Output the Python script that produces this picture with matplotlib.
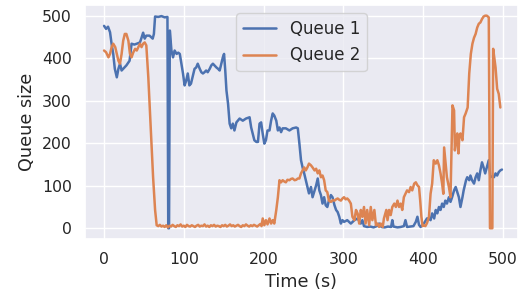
import matplotlib
matplotlib.use("Agg")
import matplotlib.pyplot as plt
import seaborn as sns

# Queue 1 (time in s, queue size)
t1 = [0, 2.5, 5, 7.5, 9.5, 11.5, 13.5, 16, 18, 20, 22, 24, 28, 32, 34.5, 38, 41, 45, 47, 49,
      51, 53, 57, 61, 62.5, 64, 68, 72, 76, 79.5, 80.5, 81.5, 82.5, 84.5, 86.5, 88.5, 91, 93, 95, 97,
      99, 101, 103, 105, 107, 109, 111.5, 113.5, 115.5, 117.5, 120, 122, 124, 126, 128, 130, 132.5, 134.5, 136.5, 138.5,
      141, 143, 145, 147, 149, 150.5, 152, 153.5, 155.5, 157.5, 159.5, 161.5, 163.5, 166, 170, 174, 178, 182.5, 184.5, 186.5,
      188.5, 191, 193, 195, 197, 199, 201, 203, 205, 207.5, 209.5, 211.5, 213.5, 216, 218, 220, 222, 224, 228, 232.5,
      236.5, 241, 243, 245, 247, 249, 251, 253, 255, 257, 259.5, 261.5, 264, 266, 268, 270, 272, 274, 276, 278,
      280, 282, 284.5, 286.5, 289, 291, 293, 295, 297, 299, 301, 305, 309.5, 314, 318, 322, 324, 326, 330, 334,
      338, 342, 345, 348, 352, 356, 360, 361.5, 363, 368, 372, 376, 378, 380, 384, 388, 391, 393, 395, 397,
      401, 405, 407.5, 409.5, 411.5, 414, 416, 418, 420, 422, 424, 426, 428, 430, 432.5, 434.5, 436.5, 439, 441, 443,
      445, 447, 449.5, 451, 454, 455.5, 458, 459.5, 461.5, 464, 466, 468, 470, 472, 474, 476, 478, 480, 482.5, 484.5,
      487, 489, 491, 493, 495, 497, 499]
q1 = [476, 469, 474, 461, 433, 410, 375, 355, 375, 387, 371, 375, 383, 394, 434, 432, 434, 437, 448, 460,
      446, 453, 453, 446, 457, 498, 497, 499, 496, 497, 0, 0, 465, 418, 402, 418, 410, 413, 410, 387,
      364, 336, 347, 364, 336, 340, 359, 375, 378, 387, 375, 367, 364, 367, 371, 367, 375, 383, 387, 383,
      378, 375, 371, 387, 402, 410, 371, 324, 293, 246, 235, 246, 230, 249, 258, 253, 258, 261, 237, 222,
      207, 203, 203, 246, 249, 222, 199, 207, 230, 230, 253, 270, 265, 253, 230, 237, 226, 235, 235, 230,
      235, 237, 235, 199, 160, 143, 129, 113, 97, 82, 97, 73, 89, 101, 117, 89, 78, 58, 73, 54,
      50, 65, 78, 73, 54, 43, 38, 27, 11, 19, 15, 19, 11, 19, 23, 11, 19, 5, 3, 4,
      2, 5, 11, 3, 2, 4, 3, 19, 4, 2, 3, 5, 19, 3, 4, 5, 15, 27, 8, 3,
      11, 23, 23, 19, 35, 23, 43, 35, 50, 43, 58, 50, 65, 58, 73, 62, 73, 89, 97, 85,
      73, 50, 73, 89, 113, 120, 113, 124, 113, 105, 120, 129, 113, 136, 155, 143, 129, 143, 160, 120,
      122, 120, 129, 124, 132, 136, 138]

# Queue 2 (time in s, queue size)
t2 = [0, 2.5, 5.5, 7.5, 9.5, 11.5, 14, 16, 18, 20, 22, 24, 26, 28, 30.5, 32.5, 34.5, 36.5, 39, 41,
      43, 45, 47, 49, 51, 53, 55.5, 57.5, 59.5, 61.5, 64, 66, 68, 70, 72, 74, 76, 78, 80, 82,
      84, 86, 88, 90, 92, 94, 96, 98, 100, 102, 104, 106, 108, 110, 112, 114, 116, 118, 120, 122,
      124, 126, 128, 130, 132, 134, 136, 138, 140, 142, 144, 146, 148, 150, 152, 154, 156, 158, 160, 162,
      164, 166, 168, 170, 172, 174, 176, 178, 180, 182, 184, 186, 188, 190, 192, 194, 196, 197.5, 199, 201,
      203, 205, 207.5, 209.5, 211.5, 213.5, 216, 218, 220, 222, 224, 226, 228, 230, 232.5, 234.5, 236.5, 239, 241, 243,
      245, 247, 249, 251, 253, 255, 257, 259.5, 261.5, 264, 266, 268, 270, 272, 274, 276, 278, 280, 282, 284.5,
      287, 289, 291, 293, 295, 297, 299, 301, 303, 305, 307, 309.5, 311.5, 314, 316, 318, 320, 322, 324, 326,
      328, 330, 332.5, 334.5, 336.5, 339, 341, 343, 345, 347, 349.5, 351, 354, 355.5, 357.5, 359.5, 361.5, 364, 366, 368,
      370, 372, 374, 376, 378, 380, 382.5, 384.5, 386.5, 389, 391, 393, 395, 396.5, 398, 399.5, 401, 403, 405, 407.5,
      409.5, 411.5, 413.5, 416, 418, 420, 422, 424, 425.5, 426.5, 428, 430, 432.5, 434.5, 436, 437, 439, 440, 441, 443,
      444.5, 445.5, 447, 449.5, 451.5, 453.5, 456, 457, 458, 460, 462, 464, 466, 468, 470, 472, 474, 476, 478, 480,
      482.5, 484, 485.5, 487, 488, 491, 493, 495, 497]
q2 = [418, 414, 402, 410, 426, 434, 426, 410, 394, 387, 410, 441, 457, 457, 441, 410, 402, 413, 422, 418,
      426, 434, 426, 434, 437, 430, 355, 277, 199, 120, 43, 7, 5, 8, 4, 6, 3, 7, 2, 6,
      4, 8, 5, 3, 7, 5, 9, 4, 6, 3, 8, 5, 4, 7, 5, 3, 6, 8, 4, 6,
      5, 9, 4, 6, 3, 7, 5, 8, 4, 6, 5, 3, 7, 5, 8, 4, 6, 9, 5, 7,
      4, 6, 8, 5, 3, 7, 5, 9, 6, 4, 7, 5, 8, 6, 4, 7, 10, 5, 23, 7,
      19, 9, 23, 11, 19, 11, 43, 73, 113, 108, 113, 110, 108, 114, 113, 116, 117, 113, 114, 117,
      117, 129, 136, 143, 136, 143, 152, 148, 143, 136, 140, 129, 136, 120, 124, 113, 89, 85, 65, 62,
      66, 65, 68, 70, 67, 65, 70, 73, 68, 70, 66, 58, 27, 19, 43, 35, 11, 43, 27, 50,
      11, 43, 7, 50, 19, 43, 7, 11, 3, 11, 3, 23, 43, 19, 43, 31, 50, 58, 50, 65,
      50, 58, 43, 73, 81, 89, 85, 97, 89, 105, 108, 101, 97, 65, 27, 5, 7, 5, 12, 27,
      81, 105, 160, 152, 160, 148, 129, 105, 81, 190, 160, 120, 97, 73, 199, 289, 277, 183, 199, 223,
      176, 214, 223, 207, 261, 270, 284, 324, 364, 410, 434, 448, 457, 472, 481, 484, 492, 498, 500, 500,
      496, 0, 0, 0, 422, 378, 328, 316, 284]

sns.set_theme()
plt.rcParams['font.family'] = ['DejaVu Sans']

fig = plt.figure(figsize=(5.21, 2.96), dpi=100)
ax = fig.add_axes([0.163, 0.193, 0.831, 0.790])
ax.plot(t1, q1, label='Queue 1', linewidth=1.8)
ax.plot(t2, q2, label='Queue 2', linewidth=1.8)
ax.set_xlim(-24, 519)
ax.set_ylim(-25, 525)
ax.set_xticks([0, 100, 200, 300, 400, 500])
ax.set_yticks([0, 100, 200, 300, 400, 500])
ax.tick_params(labelsize=11.3)
ax.set_xlabel('Time (s)', fontsize=12.7)
ax.set_ylabel('Queue size', fontsize=12.7)
ax.legend(loc='upper center', fontsize=12)
fig.savefig('out.png', dpi=100)
